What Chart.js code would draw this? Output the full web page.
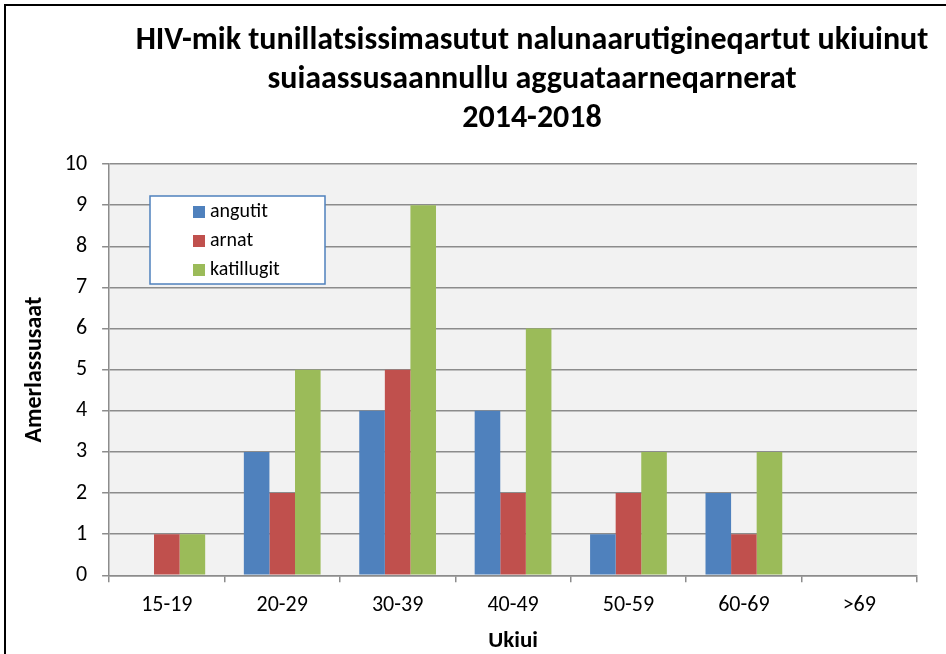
<!DOCTYPE html>
<html lang="kl">
<head>
  <meta charset="UTF-8">
  <title>HIV-mik tunillatsissimasutut</title>
  <script src="https://cdn.jsdelivr.net/npm/chart.js"></script>
  <style>
    html, body { margin: 0; padding: 0; background: #fff; }
    #wrap { width: 946px; height: 654px; position: relative; }
  </style>
</head>
<body>
  <div id="wrap"><canvas id="hivChart" width="946" height="654"></canvas></div>

  <script>
    // age groups and counts per group
    const ageGroups = ['15-19', '20-29', '30-39', '40-49', '50-59', '60-69', '>69'];
    const angutit = [0, 3, 4, 4, 1, 2, 0];
    const arnat = [1, 2, 5, 2, 2, 1, 0];
    const katillugit = [1, 5, 9, 6, 3, 3, 0];
    const titleLines = [
      'HIV-mik tunillatsissimasutut nalunaarutigineqartut ukiuinut',
      'suiaassusaannullu agguataarneqarnerat',
      '2014-2018'
    ];

    const FONT = "Carlito, Calibri, Lato, sans-serif";
    const GRID = '#8c8c8c';

    // grey plot background, boxed legend inside the plot, frame lines
    const decor = {
      id: 'decor',
      afterLayout(chart) {
        // title sits a bit right of the canvas centre
        if (chart.titleBlock) {
          chart.titleBlock.left = 118;
          chart.titleBlock.right = 946;
        }
      },
      beforeDraw(chart) {
        const { ctx, chartArea: a } = chart;
        ctx.save();
        ctx.fillStyle = '#f2f2f2';
        ctx.fillRect(a.left, a.top, a.right - a.left, a.bottom - a.top);
        ctx.restore();
      },
      afterDatasetsDraw(chart) {
        const ctx = chart.ctx;
        ctx.save();
        ctx.fillStyle = '#fff';
        ctx.strokeStyle = '#4f81bd';
        ctx.lineWidth = 1.5;
        ctx.fillRect(150, 196, 175, 88);
        ctx.strokeRect(150, 196, 175, 88);
        ctx.font = '20px ' + FONT;
        ctx.textBaseline = 'middle';
        chart.data.datasets.forEach((ds, i) => {
          const y = 212 + i * 29;
          ctx.fillStyle = ds.backgroundColor;
          ctx.fillRect(193, y - 6, 12, 12);
          ctx.fillStyle = '#000';
          ctx.fillText(ds.label, 210, y);
        });
        ctx.restore();
      },
      afterDraw(chart) {
        const ctx = chart.ctx;
        ctx.save();
        ctx.strokeStyle = '#000';
        ctx.lineWidth = 2;
        ctx.beginPath();
        ctx.moveTo(5, 660);
        ctx.lineTo(5, 5);
        ctx.lineTo(946, 5);
        ctx.stroke();
        ctx.restore();
      }
    };

    new Chart(document.getElementById('hivChart'), {
      type: 'bar',
      data: {
        labels: ageGroups,
        datasets: [
          { label: 'angutit', data: angutit, backgroundColor: '#4f81bd' },
          { label: 'arnat', data: arnat, backgroundColor: '#c0504d' },
          { label: 'katillugit', data: katillugit, backgroundColor: '#9bbb59' }
        ]
      },
      options: {
        responsive: false,
        animation: false,
        layout: { padding: { left: 11, right: 29, top: 0, bottom: 0 } },
        datasets: { bar: { categoryPercentage: 0.665, barPercentage: 1.0 } },
        plugins: {
          legend: { display: false },
          tooltip: { enabled: false },
          title: {
            display: true,
            text: titleLines,
            color: '#000',
            font: { family: FONT, size: 32, weight: 'bold', lineHeight: 1.22 },
            padding: { top: 21, bottom: 26 }
          }
        },
        scales: {
          x: {
            grid: { drawOnChartArea: false, tickLength: 7, color: GRID, lineWidth: 1.5 },
            border: { color: GRID, width: 1.5 },
            ticks: { color: '#000', font: { family: FONT, size: 22 }, padding: 10 },
            title: { display: true, text: 'Ukiui', color: '#000', font: { family: FONT, size: 23, weight: 'bold', lineHeight: 1.1 }, padding: { top: 0, bottom: 0 } }
          },
          y: {
            min: 0,
            max: 10,
            ticks: { stepSize: 1, color: '#000', font: { family: FONT, size: 22 }, padding: 15 },
            grid: { color: GRID, lineWidth: 1.5, tickLength: 7 },
            border: { color: GRID, width: 1.5 },
            title: { display: true, text: 'Amerlassusaat', color: '#000', font: { family: FONT, size: 24, weight: 'bold' }, padding: { top: 10, bottom: 0 } }
          }
        }
      },
      plugins: [decor]
    });
  </script>
</body>
</html>
